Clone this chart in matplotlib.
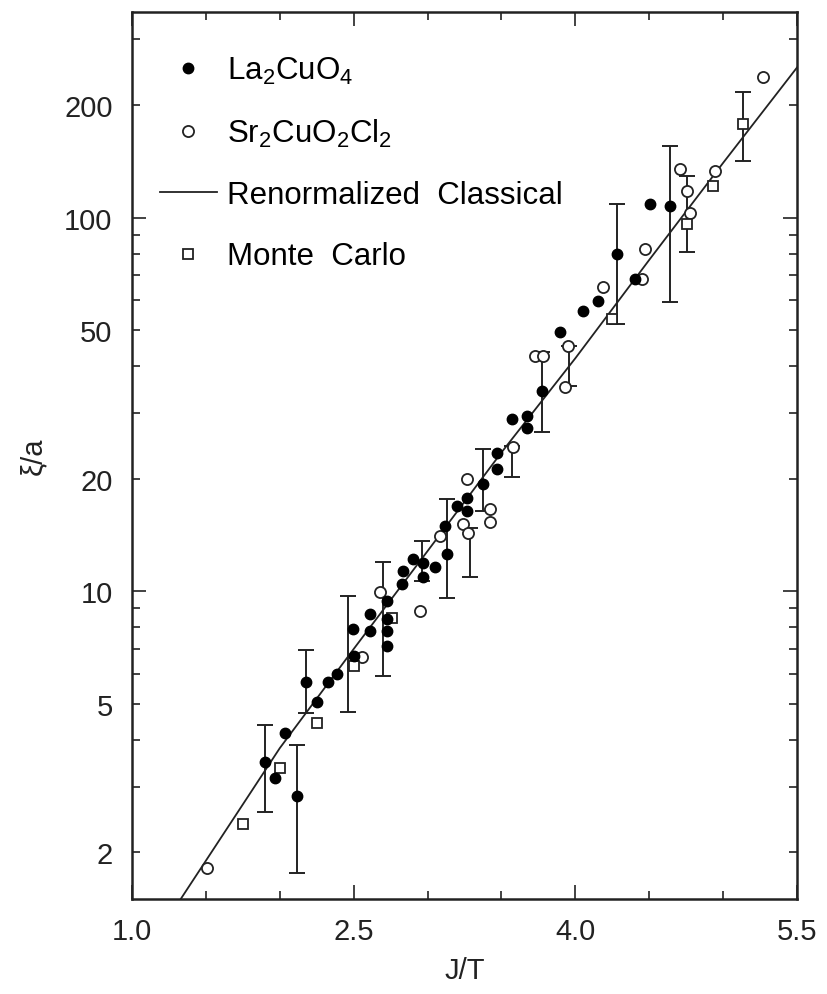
import numpy as np
import matplotlib.pyplot as plt
from matplotlib.ticker import FixedLocator, FuncFormatter

plt.rcParams['font.family'] = ['Liberation Sans', 'DejaVu Sans']
plt.rcParams['mathtext.fontset'] = 'custom'
plt.rcParams['mathtext.rm'] = 'Liberation Sans'
plt.rcParams['mathtext.it'] = 'Liberation Sans:italic'

# La2CuO4 (filled circles)
la_x = [1.90, 1.967, 2.035, 2.114, 2.177, 2.25, 2.328, 2.385, 2.497, 2.50,
        2.61, 2.61, 2.723, 2.723, 2.723, 2.723, 2.825, 2.836, 2.903, 2.971,
        2.971, 3.05, 3.129, 3.118, 3.197, 3.265, 3.265, 3.377, 3.468, 3.468,
        3.57, 3.67, 3.67, 3.772, 3.896, 4.054, 4.155, 4.279, 4.403, 4.505, 4.64]
la_y = [3.48, 3.17, 4.18, 2.83, 5.71, 5.04, 5.71, 5.99, 7.91, 6.71,
        8.68, 7.83, 9.42, 8.41, 7.83, 7.14, 10.44, 11.33, 12.18, 11.93,
        10.88, 11.57, 12.56, 14.96, 16.92, 17.8, 16.4, 19.35, 23.5, 21.2,
        28.9, 29.4, 27.4, 34.4, 49.3, 56.3, 59.9, 79.9, 68.5, 108.7, 107.6]

# Sr2CuO2Cl2 (open circles)
sr_x = [1.505, 2.554, 2.678, 2.949, 3.084, 3.242, 3.275, 3.265, 3.422, 3.422,
        3.58, 3.73, 3.78, 3.952, 3.93, 4.189, 4.448, 4.471, 4.708, 4.753,
        4.776, 4.945, 5.271]
sr_y = [1.82, 6.66, 9.92, 8.86, 14.06, 15.1, 14.35, 19.95, 16.6, 15.3,
        24.3, 42.7, 42.7, 45.4, 35.1, 65.1, 68.5, 82.4, 135, 118,
        103, 133.6, 237.5]

# Monte Carlo (open squares)
mc_x = [1.753, 2.0, 2.25, 2.50, 2.757, 4.245, 4.753, 4.933, 5.136]
mc_y = [2.38, 3.37, 4.45, 6.3, 8.5, 53.5, 96, 121.8, 178]

# error bars: position, lower end, upper end
err_x = [1.90, 2.114, 2.177, 2.46, 2.70, 2.96, 3.129, 3.287, 3.377, 3.57,
         3.772, 3.96, 4.279, 4.64, 4.753, 5.136]
err_lo = [2.56, 1.76, 4.73, 4.74, 5.93, 10.65, 9.56, 10.9, 16.4, 20.2,
          26.6, 35.3, 51.9, 59.3, 80.8, 142]
err_hi = [4.37, 3.87, 6.95, 9.73, 11.98, 13.6, 17.63, 14.8, 24.0, 24.5,
          43.6, 45.4, 108.7, 155.6, 129, 216.6]

# Renormalized classical curve
rc_x = [1.33, 2.0, 2.5, 3.0, 3.5, 4.0, 4.5, 5.0, 5.5]
rc_y = [1.5, 3.8, 7.0, 12.8, 23.5, 42, 77, 140, 252]

fig = plt.figure(figsize=(8.27, 9.95), dpi=100)
ax = fig.add_axes([0.1596, 0.0955, 0.8041, 0.8915])

lo = np.array(err_lo)
hi = np.array(err_hi)
mid = np.sqrt(lo * hi)
ax.errorbar(err_x, mid, yerr=[mid - lo, hi - mid], fmt='none', ecolor='#222222',
            elinewidth=1.4, capsize=6, capthick=1.4, zorder=2)

ax.plot(rc_x, rc_y, '-', color='#222222', lw=1.3, zorder=1, label='Renormalized  Classical')
ax.plot(la_x, la_y, 'o', ms=7.5, color='black', zorder=4, label=r'La$_2$CuO$_4$')
ax.plot(sr_x, sr_y, 'o', ms=8, mfc='white', mec='#222222', mew=1.3, zorder=3,
        label=r'Sr$_2$CuO$_2$Cl$_2$')
ax.plot(mc_x, mc_y, 's', ms=7.5, mfc='white', mec='#222222', mew=1.3, zorder=3,
        label='Monte  Carlo')

ax.set_yscale('log')
ax.set_xlim(1.0, 5.5)
ax.set_ylim(1.5, 355)

ax.xaxis.set_major_locator(FixedLocator([1.0, 2.5, 4.0, 5.5]))
ax.xaxis.set_minor_locator(FixedLocator([1.5, 2.0, 3.0, 3.5, 4.5, 5.0]))
ax.xaxis.set_major_formatter(FuncFormatter(lambda v, p: f'{v:.1f}'))

ax.yaxis.set_major_locator(FixedLocator([10, 100]))
minors = [2, 3, 4, 5, 6, 7, 8, 9, 20, 30, 40, 50, 60, 70, 80, 90, 200, 300]
ax.yaxis.set_minor_locator(FixedLocator(minors))
ax.yaxis.set_major_formatter(FuncFormatter(lambda v, p: f'{v:g}'))
ax.yaxis.set_minor_formatter(FuncFormatter(
    lambda v, p: f'{v:g}' if v in (2, 5, 20, 50, 200) else ''))

ax.tick_params(which='both', direction='in', top=True, right=True, width=1.2,
               labelsize=21, colors='#222222')
ax.tick_params(which='major', length=10)
ax.tick_params(which='minor', length=5.5)
ax.tick_params(axis='x', which='both', pad=13)
ax.tick_params(axis='y', which='both', pad=14)
for s in ax.spines.values():
    s.set_linewidth(1.8)
    s.set_color('#222222')

ax.set_xlabel('J/T', fontsize=21, color='#222222', labelpad=8)
ax.set_ylabel('ξ/a', fontsize=21, color='#222222', labelpad=12)

h, l = ax.get_legend_handles_labels()
order = [1, 2, 0, 3]
ax.legend([h[i] for i in order], [l[i] for i in order], loc='upper left',
          bbox_to_anchor=(0.042, 0.952), frameon=False, fontsize=22.5,
          handlelength=1.82, handletextpad=0.32, labelspacing=1.0,
          borderaxespad=0, borderpad=0, numpoints=1)

plt.savefig('out.png', dpi=100)
